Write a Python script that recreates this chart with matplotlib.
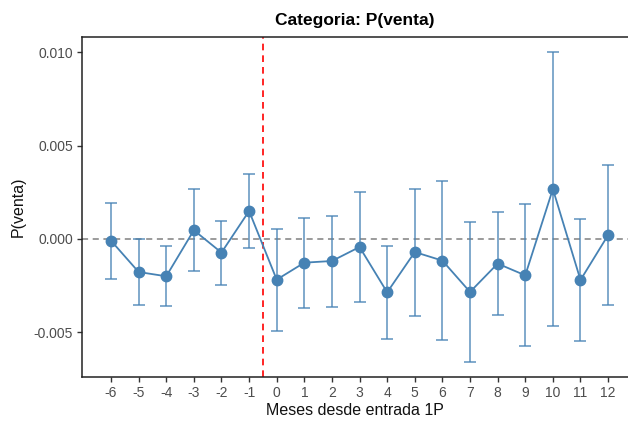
import matplotlib
matplotlib.use("Agg")
import matplotlib.pyplot as plt
import numpy as np

plt.rcParams['font.family'] = ['Liberation Sans', 'DejaVu Sans']
plt.rcParams['axes.unicode_minus'] = False

# meses relativos a la entrada 1P
meses = [-6, -5, -4, -3, -2, -1, 0, 1, 2, 3, 4, 5, 6, 7, 8, 9, 10, 11, 12]
coef = [-0.00009, -0.00177, -0.0020, 0.00047, -0.00073, 0.0015,
        -0.00218, -0.00127, -0.00118, -0.00043, -0.00286, -0.0007,
        -0.00116, -0.00284, -0.00132, -0.00195, 0.00268, -0.0022, 0.00021]
ci_low = [-0.00214, -0.00352, -0.0036, -0.00173, -0.00245, -0.00048,
          -0.00493, -0.0037, -0.00363, -0.00336, -0.00534, -0.00413,
          -0.00543, -0.0066, -0.00407, -0.00575, -0.00465, -0.00545, -0.00354]
ci_high = [0.00195, 0.0000, -0.00038, 0.00266, 0.00098, 0.00347,
           0.00055, 0.00114, 0.00125, 0.00252, -0.00038, 0.0027,
           0.00311, 0.00093, 0.00143, 0.00189, 0.0100, 0.00106, 0.00397]

col = "#4682B4"

fig = plt.figure(figsize=(6.28, 4.25), dpi=100)
ax = fig.add_axes([82/628, 1 - 377/425, 1 - 82/628, (377 - 37)/425])

ax.axhline(0, color="gray", linestyle=(0, (4, 3)), linewidth=1.1, zorder=1)
ax.axvline(-0.5, color="red", linestyle=(0, (4, 3)), linewidth=1.2, zorder=1)

yerr = [np.array(coef) - np.array(ci_low), np.array(ci_high) - np.array(coef)]
ax.errorbar(meses, coef, yerr=yerr, fmt="none", ecolor=col, alpha=0.8,
            elinewidth=1.2, capsize=4, capthick=1.2, zorder=2)
ax.plot(meses, coef, color=col, linewidth=1.3, marker="o", markersize=7.5, zorder=3)

ax.set_xlim(-7.05, 12.72)
ax.set_ylim(-0.0074, 0.01083)
ax.set_xticks(meses)
ax.set_yticks([-0.005, 0.0, 0.005, 0.010])
ax.set_yticklabels(["-0.005", "0.000", "0.005", "0.010"])

ax.spines["right"].set_visible(False)
for s in ["left", "top", "bottom"]:
    ax.spines[s].set_linewidth(1.1)
    ax.spines[s].set_color("#222222")
ax.tick_params(axis="both", length=3.5, width=1, color="#333333",
               labelsize=10, labelcolor="#4d4d4d", pad=3)

ax.set_xlabel("Meses desde entrada 1P", fontsize=11.5, color="#111111", labelpad=2)
ax.set_ylabel("P(venta)", fontsize=11.5, color="#111111", labelpad=6)
ax.set_title("Categoria: P(venta)", fontsize=12.5, fontweight="bold", pad=9)

fig.savefig("out.png", dpi=100)
